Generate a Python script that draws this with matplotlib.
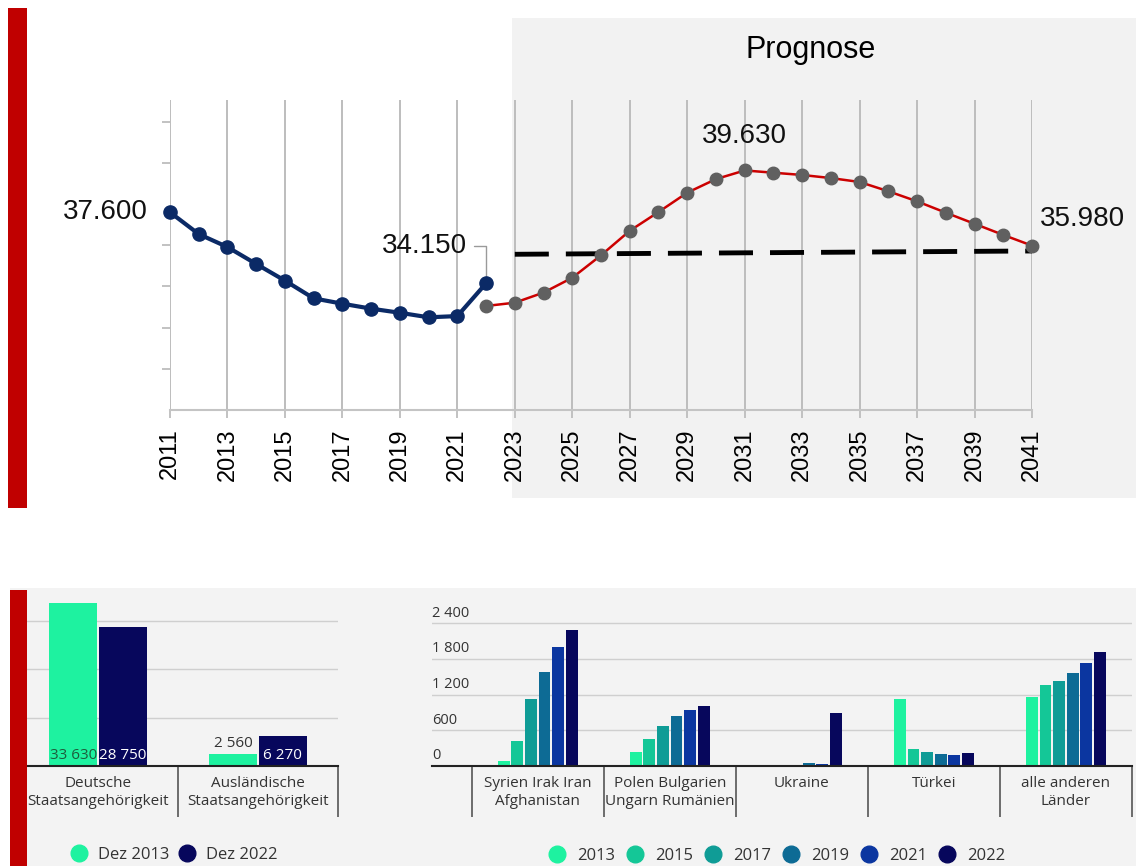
import numpy as np
import matplotlib
matplotlib.use("Agg")
import matplotlib.pyplot as plt
import matplotlib.transforms as mtransforms
from matplotlib.patches import Rectangle
from matplotlib.lines import Line2D

W, H = 1136, 866

# ---- Daten oben: Entwicklung + Prognose ----
jahre_ist = list(range(2011, 2023))
werte_ist = [37600, 36540, 35910, 35090, 34280, 33420, 33160, 32920, 32720, 32500, 32560, 34150]
jahre_prog = list(range(2022, 2042))
werte_prog = [33050, 33210, 33700, 34420, 35510, 36700, 37610, 38550, 39210, 39630,
              39520, 39410, 39260, 39070, 38620, 38130, 37580, 37040, 36500, 35980]
trend_jahre = [2023, 2041]
trend_werte = [35560, 35720]

# ---- Daten unten links ----
gruppen_links = ["Deutsche\nStaatsangehörigkeit", "Ausländische\nStaatsangehörigkeit"]
dez2013 = [33630, 2560]
dez2022 = [28750, 6270]

# ---- Daten unten rechts ----
gruppen_rechts = ["Syrien Irak Iran\nAfghanistan", "Polen Bulgarien\nUngarn Rumänien",
                  "Ukraine", "Türkei", "alle anderen\nLänder"]
jahre_rechts = ["2013", "2015", "2017", "2019", "2021", "2022"]
w2013 = [84, 230, 0, 1131, 1165]
w2015 = [425, 448, 0, 286, 1366]
w2017 = [1126, 666, 0, 241, 1422]
w2019 = [1579, 840, 45, 202, 1557]
w2021 = [1994, 941, 34, 179, 1730]
w2022 = [2285, 1008, 885, 213, 1910]
farben_rechts = ['#1ef2a0', '#14c797', '#0f9c96', '#0d6b95', '#0b36a0', '#07075c']


def de_punkt(v):
    return f"{v:,}".replace(',', '.')


def de_leer(v):
    return f"{v:,}".replace(',', ' ')


def ax_px(fig, x0, y0, x1, y1):
    # Achse in Pixelkoordinaten (y von oben)
    return fig.add_axes([x0 / W, 1 - y1 / H, (x1 - x0) / W, (y1 - y0) / H])


def rect_px(fig, x0, y0, x1, y1, color, z):
    r = Rectangle((x0 / W, 1 - y1 / H), (x1 - x0) / W, (y1 - y0) / H,
                  transform=fig.transFigure, facecolor=color, edgecolor='none', zorder=z)
    fig.add_artist(r)


fig = plt.figure(figsize=(W / 100, H / 100), dpi=100)
fig.patch.set_facecolor('white')

# Hintergruende und rote Balken
rect_px(fig, 512, 18, 1136, 498, '#f2f2f2', -5)
rect_px(fig, 10, 588, 1136, 866, '#f3f3f3', -5)
rect_px(fig, 8, 8, 27, 508, '#c00000', 10)
rect_px(fig, 10, 590, 27, 866, '#c00000', 10)

fig.text(811 / W, 1 - 50 / H, "Prognose", ha='center', va='center',
         fontsize=22, family='Liberation Sans')

# ---------------- oben ----------------
ax = ax_px(fig, 170, 100, 1032, 410)
ax.set_facecolor('none')
ax.set_xlim(2011, 2041)
ax.set_ylim(28000, 43050)
ax.set_xticks(range(2011, 2042, 2))
ax.set_xticklabels([str(j) for j in range(2011, 2042, 2)], rotation=90,
                   fontsize=17, family='Liberation Sans')
ax.set_yticks([30000, 32000, 34000, 36000, 40000, 42000])
ax.set_yticklabels([])
ax.tick_params(axis='x', length=6, width=1.3, color='#bdbdbd', pad=7)
ax.tick_params(axis='y', length=6, width=1.3, color='#bdbdbd')
for s in ['left', 'top', 'right']:
    ax.spines[s].set_visible(False)
ax.spines['bottom'].set_color('#c4c4c4')
ax.spines['bottom'].set_linewidth(1.5)
ax.grid(axis='x', color='#bdbdbd', linewidth=1.4)
ax.set_axisbelow(True)

ax.plot(trend_jahre, trend_werte, color='black', linewidth=3.5, dashes=(7, 3.5), zorder=2)
ax.plot(jahre_prog, werte_prog, color='#cc0000', linewidth=1.8, marker='o',
        markersize=9, markerfacecolor='#606060', markeredgecolor='#606060',
        clip_on=False, zorder=3)
ax.plot(jahre_ist, werte_ist, color='#0b2a66', linewidth=3, marker='o',
        markersize=9.5, markerfacecolor='#0b2a66', markeredgecolor='#0b2a66',
        clip_on=False, zorder=4)

lab = dict(fontsize=20, family='Liberation Sans', color='#111111')
ax.annotate(de_punkt(werte_ist[0]), (jahre_ist[0], werte_ist[0]), xytext=(-16, 0),
            textcoords='offset points', ha='right', va='center', **lab)
ax.annotate(de_punkt(werte_ist[-1]), (jahre_ist[-1], werte_ist[-1]), xytext=(-14, 27),
            textcoords='offset points', ha='right', va='center',
            arrowprops=dict(arrowstyle='-', color='#9a9a9a', lw=1,
                            connectionstyle='angle,angleA=0,angleB=90,rad=0',
                            shrinkA=3, shrinkB=5), **lab)
i_max = int(np.argmax(werte_prog))
ax.annotate(de_punkt(werte_prog[i_max]), (jahre_prog[i_max], werte_prog[i_max]),
            xytext=(0, 25), textcoords='offset points', ha='center', va='center', **lab)
ax.annotate(de_punkt(werte_prog[-1]), (jahre_prog[-1], werte_prog[-1]), xytext=(6, 19),
            textcoords='offset points', ha='left', va='center', **lab)

# ---------------- unten links ----------------
f_bottom = 'Open Sans'
axl = ax_px(fig, 18, 590, 338, 766)
axl.set_facecolor('none')
xl = np.arange(len(gruppen_links))
axl.set_xlim(-0.5, 1.5)
axl.set_ylim(0, 36400)
axl.bar(xl - 0.155, dez2013, width=0.3, color='#1ef2a0', zorder=2)
axl.bar(xl + 0.155, dez2022, width=0.3, color='#07075c', zorder=2)
axl.set_yticks([10000, 20000, 30000])
axl.grid(axis='y', color='#cfcfcf', linewidth=1)
axl.set_axisbelow(True)
axl.tick_params(axis='y', length=0, labelleft=False)
axl.set_xticks(xl)
axl.set_xticklabels(gruppen_links, fontsize=11, family=f_bottom, color='#333333', linespacing=1.3)
axl.set_xticks([0.5, 1.5], minor=True)
axl.tick_params(axis='x', which='major', length=0, pad=7)
axl.tick_params(axis='x', which='minor', length=37, width=1.2, color='#555555')
for s in ['left', 'top', 'right']:
    axl.spines[s].set_visible(False)
axl.spines['bottom'].set_color('#222222')
axl.spines['bottom'].set_linewidth(1.5)

for xi, v13, v22 in zip(xl, dez2013, dez2022):
    if v13 > 5000:
        axl.annotate(de_leer(v13), (xi - 0.155, 0), xytext=(0, 2), textcoords='offset points',
                     ha='center', va='bottom', fontsize=11, family=f_bottom, color='#1d5c3c')
    else:
        axl.annotate(de_leer(v13), (xi - 0.155, v13), xytext=(0, 2), textcoords='offset points',
                     ha='center', va='bottom', fontsize=11, family=f_bottom, color='#333333')
    axl.annotate(de_leer(v22), (xi + 0.155, 0), xytext=(0, 2), textcoords='offset points',
                 ha='center', va='bottom', fontsize=11, family=f_bottom, color='white')

hl = [Line2D([], [], linestyle='none', marker='o', markersize=12, color=c)
      for c in ['#1ef2a0', '#07075c']]
fig.legend(hl, ["Dez 2013", "Dez 2022"], loc='center', bbox_to_anchor=(174 / W, 1 - 855 / H),
           ncol=2, frameon=False, handlelength=1.0, handletextpad=0.6, columnspacing=0.6,
           prop={'family': f_bottom, 'size': 12}, labelcolor='#333333')

# ---------------- unten rechts ----------------
axr = ax_px(fig, 432, 590, 1132, 766)
axr.set_facecolor('none')
xr = np.arange(len(gruppen_rechts))
axr.set_xlim(-0.8, 4.5)
axr.set_ylim(0, 2960)
reihen = [w2013, w2015, w2017, w2019, w2021, w2022]
for k, (reihe, farbe) in enumerate(zip(reihen, farben_rechts)):
    axr.bar(xr + (k - 2.5) * 0.103, reihe, width=0.09, color=farbe, zorder=2)
yt = [0, 600, 1200, 1800, 2400]
axr.set_yticks(yt[1:])
axr.grid(axis='y', color='#cfcfcf', linewidth=1)
axr.set_axisbelow(True)
axr.tick_params(axis='y', length=0, labelleft=False)
tr = mtransforms.blended_transform_factory(axr.transAxes, axr.transData)
for v in yt:
    axr.annotate(de_leer(v), (0, v), xycoords=tr, xytext=(0, 2), textcoords='offset points',
                 ha='left', va='bottom', fontsize=10.5, family=f_bottom, color='#333333')
axr.set_xticks(xr)
axr.set_xticklabels(gruppen_rechts, fontsize=11, family=f_bottom, color='#333333', linespacing=1.3)
axr.set_xticks(np.arange(-0.5, 5, 1), minor=True)
axr.tick_params(axis='x', which='major', length=0, pad=7)
axr.tick_params(axis='x', which='minor', length=37, width=1.2, color='#555555')
for s in ['left', 'top', 'right']:
    axr.spines[s].set_visible(False)
axr.spines['bottom'].set_color('#222222')
axr.spines['bottom'].set_linewidth(1.5)

hr = [Line2D([], [], linestyle='none', marker='o', markersize=12, color=c) for c in farben_rechts]
fig.legend(hr, jahre_rechts, loc='center', bbox_to_anchor=(777 / W, 1 - 856 / H),
           ncol=6, frameon=False, handlelength=1.0, handletextpad=0.7, columnspacing=0.7,
           prop={'family': f_bottom, 'size': 12}, labelcolor='#333333')

fig.savefig('out.png', dpi=100)
